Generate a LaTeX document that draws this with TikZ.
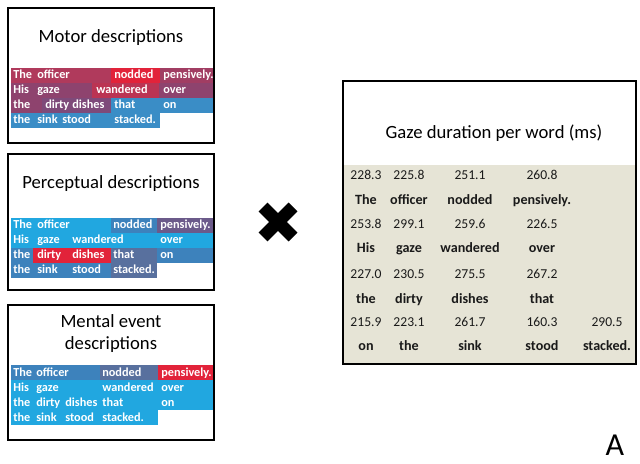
\documentclass[tikz,border=0pt]{standalone}
\usepackage{fontspec}
\setmainfont{Carlito}
\definecolor{crim}{HTML}{B03A5C}
\definecolor{redc}{HTML}{E2233A}
\definecolor{mauve}{HTML}{A13D63}
\definecolor{mauveb}{HTML}{8E436E}
\definecolor{purp}{HTML}{7E4A7A}
\definecolor{wand}{HTML}{BB3453}
\definecolor{blm}{HTML}{3A8DC6}
\definecolor{lblue}{HTML}{21A7E0}
\definecolor{steel}{HTML}{3D82BC}
\definecolor{slate}{HTML}{58709E}
\definecolor{pviolet}{HTML}{6B5A8A}
\definecolor{beige}{HTML}{E6E4D6}
\definecolor{txt}{HTML}{1A1A1A}
\tikzset{
  panel/.style={draw=black,line width=1.6pt},
  wrd/.style={text=white,font=\fontsize{9.2}{10}\selectfont\bfseries,anchor=base west,inner sep=0pt},
  ttl/.style={text=black,font=\fontsize{14}{16}\selectfont,anchor=base,inner sep=0pt},
  num/.style={text=txt,font=\fontsize{10.2}{12}\selectfont,anchor=base,inner sep=0pt},
  bw/.style={text=txt,font=\fontsize{10.6}{12}\selectfont\bfseries,anchor=base,inner sep=0pt},
}
\begin{document}
\begin{tikzpicture}[x=0.75pt,y=-0.75pt]
\useasboundingbox (0,0) rectangle (640,464);
% ---------- Panel 1: Motor ----------
\fill[crim] (11,67.5) rectangle (111,82.5);
\fill[redc] (111,67.5) rectangle (160,82.5);
\fill[mauve] (160,67.5) rectangle (213,82.5);
\fill[mauveb] (11,82.5) rectangle (92,97.5);
\fill[wand] (92,82.5) rectangle (159,97.5);
\fill[mauveb] (159,82.5) rectangle (213,97.5);
\fill[mauveb] (11,97.5) rectangle (42,112.5);
\fill[purp] (42,97.5) rectangle (111,112.5);
\fill[blm] (111,97.5) rectangle (213,112.5);
\fill[blm] (11,112.5) rectangle (160,127.5);
\draw[panel] (8,8) rectangle (214,143);
\node[ttl] (t1) at (111,42) {Motor descriptions};
\node[wrd] (a1) at (13,78.5) {The};
\node[wrd] (a2) at (37,78.5) {officer};
\node[wrd] (a3) at (114,78.5) {nodded};
\node[wrd] (a4) at (163,78.5) {pensively.};
\node[wrd] (a5) at (13,93.5) {His};
\node[wrd] (a6) at (37,93.5) {gaze};
\node[wrd] (a7) at (96,93.5) {wandered};
\node[wrd] (a8) at (163,93.5) {over};
\node[wrd] (a9) at (13,108.5) {the};
\node[wrd] (a10) at (45,108.5) {dirty};
\node[wrd] (a11) at (72,108.5) {dishes};
\node[wrd] (a12) at (114,108.5) {that};
\node[wrd] (a13) at (163,108.5) {on};
\node[wrd] (a14) at (13,123.5) {the};
\node[wrd] (a15) at (37,123.5) {sink};
\node[wrd] (a16) at (62,123.5) {stood};
\node[wrd] (a17) at (114,123.5) {stacked.};
% ---------- Panel 2: Perceptual ----------
\fill[lblue] (11,217.5) rectangle (111,232.5);
\fill[steel] (111,217.5) rectangle (157,232.5);
\fill[pviolet] (157,217.5) rectangle (213,232.5);
\fill[lblue] (11,232.5) rectangle (213,247.5);
\fill[steel] (11,247.5) rectangle (33,262.5);
\fill[redc] (33,247.5) rectangle (111,262.5);
\fill[slate] (111,247.5) rectangle (157,262.5);
\fill[steel] (157,247.5) rectangle (213,262.5);
\fill[steel] (11,262.5) rectangle (111,277.5);
\fill[slate] (111,262.5) rectangle (157,277.5);
\draw[panel] (8,154) rectangle (214,290);
\node[ttl] (t2) at (111,188) {Perceptual descriptions};
\node[wrd] (b1) at (13,228.5) {The};
\node[wrd] (b2) at (37,228.5) {officer};
\node[wrd] (b3) at (113,228.5) {nodded};
\node[wrd] (b4) at (160,228.5) {pensively.};
\node[wrd] (b5) at (13,243.5) {His};
\node[wrd] (b6) at (37,243.5) {gaze};
\node[wrd] (b7) at (72,243.5) {wandered};
\node[wrd] (b8) at (160,243.5) {over};
\node[wrd] (b9) at (13,258.5) {the};
\node[wrd] (b10) at (37,258.5) {dirty};
\node[wrd] (b11) at (72,258.5) {dishes};
\node[wrd] (b12) at (113,258.5) {that};
\node[wrd] (b13) at (160,258.5) {on};
\node[wrd] (b14) at (13,273.5) {the};
\node[wrd] (b15) at (37,273.5) {sink};
\node[wrd] (b16) at (72,273.5) {stood};
\node[wrd] (b17) at (113,273.5) {stacked.};
% ---------- Panel 3: Mental event ----------
\fill[steel] (11,365) rectangle (100,380);
\fill[slate] (100,365) rectangle (158,380);
\fill[redc] (158,365) rectangle (213,380);
\fill[lblue] (11,380) rectangle (213,410);
\fill[lblue] (11,410) rectangle (158,425);
\draw[panel] (8,305) rectangle (214,440);
\node[ttl] (t3a) at (111,327) {Mental event};
\node[ttl] (t3b) at (111,349) {descriptions};
\node[wrd] (c1) at (13,376) {The};
\node[wrd] (c2) at (36,376) {officer};
\node[wrd] (c3) at (102,376) {nodded};
\node[wrd] (c4) at (161,376) {pensively.};
\node[wrd] (c5) at (13,391) {His};
\node[wrd] (c6) at (36,391) {gaze};
\node[wrd] (c7) at (102,391) {wandered};
\node[wrd] (c8) at (161,391) {over};
\node[wrd] (c9) at (13,406) {the};
\node[wrd] (c10) at (36,406) {dirty};
\node[wrd] (c11) at (65,406) {dishes};
\node[wrd] (c12) at (102,406) {that};
\node[wrd] (c13) at (161,406) {on};
\node[wrd] (c14) at (13,421) {the};
\node[wrd] (c15) at (36,421) {sink};
\node[wrd] (c16) at (65,421) {stood};
\node[wrd] (c17) at (102,421) {stacked.};
% ---------- Cross ----------
\draw[line width=9.5pt,line cap=butt] (263,207) -- (293,237);
\draw[line width=9.5pt,line cap=butt] (293,207) -- (263,237);
% ---------- Right panel ----------
\fill[beige] (343,165) rectangle (636,364);
\draw[panel] (343,81) rectangle (636,364);
\node[ttl] (gt) at (494,138) {Gaze duration per word (ms)};
% row 1
\node[num] (n11) at (366,179.5) {228.3};
\node[num] (n12) at (409,179.5) {225.8};
\node[num] (n13) at (470,179.5) {251.1};
\node[num] (n14) at (542,179.5) {260.8};
\node[bw] (w11) at (366,204.5) {The};
\node[bw] (w12) at (409,204.5) {officer};
\node[bw] (w13) at (470,204.5) {nodded};
\node[bw] (w14) at (542,204.5) {pensively.};
% row 2
\node[num] (n21) at (366,228.5) {253.8};
\node[num] (n22) at (409,228.5) {299.1};
\node[num] (n23) at (470,228.5) {259.6};
\node[num] (n24) at (542,228.5) {226.5};
\node[bw] (w21) at (366,252.5) {His};
\node[bw] (w22) at (409,252.5) {gaze};
\node[bw] (w23) at (470,252.5) {wandered};
\node[bw] (w24) at (542,252.5) {over};
% row 3
\node[num] (n31) at (366,278.5) {227.0};
\node[num] (n32) at (409,278.5) {230.5};
\node[num] (n33) at (470,278.5) {275.5};
\node[num] (n34) at (542,278.5) {267.2};
\node[bw] (w31) at (366,303) {the};
\node[bw] (w32) at (409,303) {dirty};
\node[bw] (w33) at (470,303) {dishes};
\node[bw] (w34) at (542,303) {that};
% row 4
\node[num] (n41) at (366,326.5) {215.9};
\node[num] (n42) at (409,326.5) {223.1};
\node[num] (n43) at (470,326.5) {261.7};
\node[num] (n44) at (542,326.5) {160.3};
\node[num] (n45) at (607,326.5) {290.5};
\node[bw] (w41) at (366,350) {on};
\node[bw] (w42) at (409,350) {the};
\node[bw] (w43) at (470,350) {sink};
\node[bw] (w44) at (542,350) {stood};
\node[bw] (w45) at (607,350) {stacked.};
% ---------- Label A ----------
\node[font=\fontsize{24}{26}\selectfont,anchor=base,inner sep=0pt] (lab) at (615,455) {A};
\end{tikzpicture}
\end{document}
